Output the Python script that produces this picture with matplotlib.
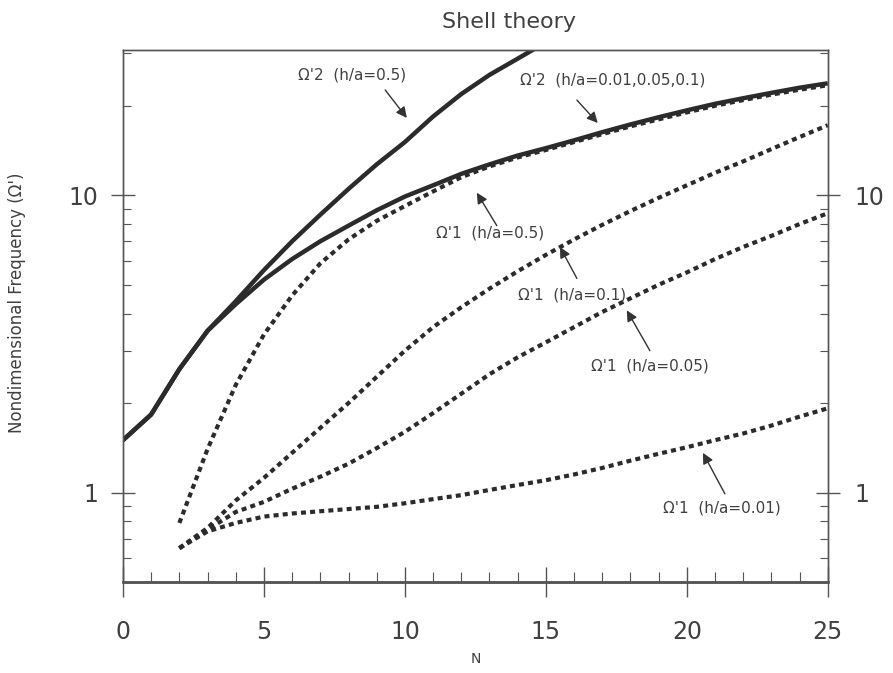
import numpy as np
import matplotlib
matplotlib.use("Agg")
import matplotlib.pyplot as plt
from matplotlib.ticker import LogLocator, MultipleLocator, NullFormatter, FixedLocator, FixedFormatter

plt.rcParams['font.family'] = ['DejaVu Sans']

# ---- data ----
n_omega2_thick = [0, 1, 2, 3, 4, 5, 6, 7, 8, 9, 10, 11, 12, 13, 14, 15]
omega2_thick = [1.5, 1.83, 2.6, 3.5, 4.4, 5.6, 7.0, 8.6, 10.5, 12.7, 15.1, 18.4, 21.9, 25.4, 28.8, 32.7]

n_omega2_thin = list(range(0, 26))
omega2_thin = [1.5, 1.83, 2.6, 3.5, 4.3, 5.2, 6.1, 7.0, 7.9, 8.9, 9.9, 10.8, 11.8, 12.7,
               13.6, 14.4, 15.3, 16.3, 17.3, 18.3, 19.3, 20.3, 21.2, 22.1, 23.0, 23.8]

n_omega1 = list(range(2, 26))
omega1_h050 = [0.79, 1.4, 2.3, 3.4, 4.6, 5.9, 7.1, 8.2, 9.2, 10.3, 11.5, 12.5, 13.4,
               14.2, 15.1, 16.05, 17.05, 18.0, 19.0, 20.0, 20.9, 21.8, 22.65, 23.45]
omega1_h010 = [0.65, 0.76, 0.94, 1.12, 1.36, 1.65, 2.0, 2.45, 3.0, 3.6, 4.2, 4.85, 5.55,
               6.3, 7.1, 7.95, 8.85, 9.8, 10.8, 11.9, 13.0, 14.3, 15.7, 17.2]
omega1_h005 = [0.65, 0.75, 0.86, 0.93, 1.03, 1.13, 1.25, 1.41, 1.6, 1.85, 2.15, 2.5, 2.85,
               3.2, 3.6, 4.05, 4.5, 5.0, 5.5, 6.1, 6.7, 7.3, 8.0, 8.7]
omega1_h001 = [0.65, 0.74, 0.79, 0.83, 0.85, 0.865, 0.88, 0.895, 0.92, 0.95, 0.98, 1.02, 1.06,
               1.1, 1.15, 1.21, 1.28, 1.35, 1.42, 1.5, 1.58, 1.68, 1.8, 1.92]

x_ticks = [0, 5, 10, 15, 20, 25]
y_ticks = [1, 10]
y_ticklabels = ["1", "10"]

# annotations: (text, text position, arrow tail, arrow tip) in data coords
labels = [
    ("Ω'2  (h/a=0.5)", (6.2, 25.4), (9.3, 22.6), (10.07, 18.2)),
    ("Ω'2  (h/a=0.01,0.05,0.1)", (14.1, 24.4), (16.1, 20.9), (16.84, 17.5)),
    ("Ω'1  (h/a=0.5)", (11.1, 7.45), (13.26, 7.9), (12.55, 10.2)),
    ("Ω'1  (h/a=0.1)", (14.0, 4.6), (16.1, 5.25), (15.5, 6.7)),
    ("Ω'1  (h/a=0.05)", (16.6, 2.66), (18.69, 3.0), (17.87, 4.1)),
    ("Ω'1  (h/a=0.01)", (19.15, 0.89), (21.35, 0.99), (20.57, 1.36)),
]

line_col = '#2b2b2b'
text_col = '#404040'
axis_col = '#555555'

fig = plt.figure(figsize=(8.93, 6.73), dpi=100)
ax = fig.add_axes([0.1377, 0.1352, 0.927 - 0.1377, 0.9257 - 0.1352])

ax.plot(n_omega2_thick, omega2_thick, color=line_col, lw=3.2, solid_capstyle='butt')
ax.plot(n_omega2_thin, omega2_thin, color=line_col, lw=3.2, solid_capstyle='butt')
for ys in (omega1_h050, omega1_h010, omega1_h005, omega1_h001):
    ax.plot(n_omega1, ys, color=line_col, lw=3.0, dashes=(1.2, 1.0), dash_capstyle='butt')

ylim = (0.5, 30.8)
ax.set_yscale('log')
ax.set_xlim(0, 25)
ax.set_ylim(*ylim)

ax.xaxis.set_major_locator(FixedLocator(x_ticks))
ax.xaxis.set_minor_locator(MultipleLocator(1))

def style_y(a):
    a.yaxis.set_major_locator(FixedLocator(y_ticks))
    a.yaxis.set_major_formatter(FixedFormatter(y_ticklabels))
    a.yaxis.set_minor_locator(LogLocator(base=10, subs=np.arange(2, 10)))
    a.yaxis.set_minor_formatter(NullFormatter())

style_y(ax)
ax.tick_params(axis='x', which='major', direction='inout', length=22, width=1.0,
               labelsize=17, pad=16, colors=axis_col, labelcolor=text_col)
ax.tick_params(axis='x', which='minor', direction='in', length=7, width=0.8, colors=axis_col)
ax.tick_params(axis='y', which='major', direction='inout', length=17, width=1.0,
               labelsize=17, pad=9, colors=axis_col, labelcolor=text_col,
               left=True, right=False, labelleft=True, labelright=False)
ax.tick_params(axis='y', which='minor', direction='in', length=6, width=0.8,
               colors=axis_col, left=True, right=False)

ax2 = ax.twinx()
ax2.set_yscale('log')
ax2.set_ylim(*ylim)
style_y(ax2)
ax2.tick_params(axis='y', which='major', direction='inout', length=17, width=1.0,
                labelsize=17, pad=11, colors=axis_col, labelcolor=text_col)
ax2.tick_params(axis='y', which='minor', direction='in', length=6, width=0.8, colors=axis_col)

for a in (ax, ax2):
    for s in a.spines.values():
        s.set_color(axis_col)
        s.set_linewidth(1.0)
    a.spines['bottom'].set_linewidth(1.8)

fig.text(509 / 893, 1 - 22 / 673, "Shell theory", fontsize=16, color=text_col,
         ha='center', va='center')
ax.set_xlabel("N", fontsize=10, color=text_col, labelpad=6)
ax.set_ylabel("Nondimensional Frequency (Ω')", fontsize=12, color=text_col)
ax.yaxis.set_label_coords(-0.137, 0.524)

for txt, tpos, tail, tip in labels:
    ax.text(tpos[0], tpos[1], txt, fontsize=11, color=text_col, ha='left', va='center')
    ax.annotate("", xy=tip, xytext=tail,
                arrowprops=dict(arrowstyle='-|>', color='#333333', lw=1.0,
                                mutation_scale=16, shrinkA=0, shrinkB=0))

fig.savefig("out.png", dpi=100, facecolor='white')
